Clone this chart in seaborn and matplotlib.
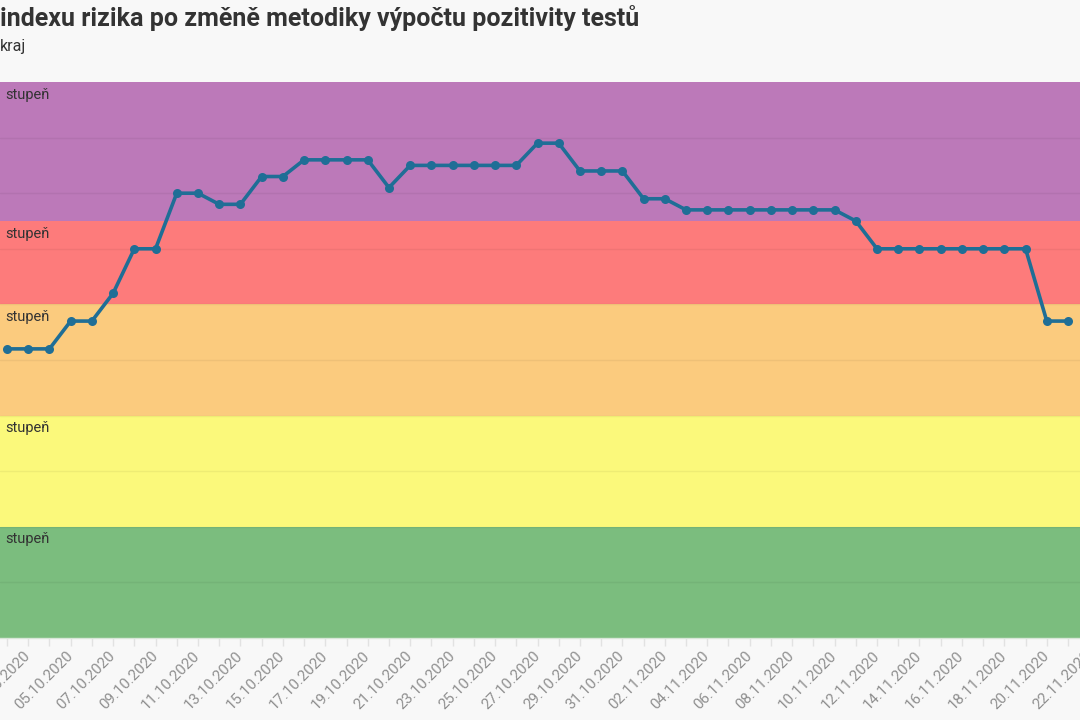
import pandas as pd
import matplotlib.pyplot as plt
import matplotlib.dates as mdates
import matplotlib.transforms as mtransforms
import seaborn as sns

# data
start_date = "2020-10-02"
risk_index = [52, 52, 52, 57, 57, 62, 70, 70, 80, 80, 78, 78, 83, 83, 86, 86, 86,
              86, 81, 85, 85, 85, 85, 85, 85, 89, 89, 84, 84, 84, 79, 79, 77, 77,
              77, 77, 77, 77, 77, 77, 75, 70, 70, 70, 70, 70, 70, 70, 70, 57, 57]
level_names = ["stupeň", "stupeň", "stupeň", "stupeň", "stupeň"]
level_bounds = [0, 20, 40, 60, 75, 100]
level_colors = ["#7bbd7e", "#fbf97b", "#fbcb7e", "#fd7b7b", "#bc79b9"]

title = "indexu rizika po změně metodiky výpočtu pozitivity testů"
subtitle = "kraj"

dates = pd.date_range(start_date, periods=len(risk_index), freq="D")
tick_dates = pd.date_range(start_date, periods=len(risk_index) + 1, freq="D")
df = pd.DataFrame({"datum": dates, "index": risk_index})

sns.set_theme(style="white")
plt.rcParams["font.family"] = ["Roboto", "DejaVu Sans"]

bg = "#f8f8f8"
px_day = 21.22
fig = plt.figure(figsize=(10.8, 7.2), dpi=100, facecolor=bg)
# plot area runs a little past the right edge, as in the cropped original
ax = fig.add_axes([0, 82 / 720, 1110 / 1080, 556 / 720], facecolor=bg)

# risk level bands
for lo, hi, col in zip(level_bounds[:-1], level_bounds[1:], level_colors):
    ax.axhspan(lo, hi, color=col, zorder=0, lw=0)

# horizontal grid every 10 points
for yv in range(10, 100, 10):
    ax.axhline(yv, color="black", alpha=0.05, lw=1, zorder=1)

sns.lineplot(data=df, x="datum", y="index", ax=ax, color="#1f6e96",
             lw=2.6, marker="o", markersize=6.5, markeredgewidth=0, zorder=3)

ax.set_ylim(0, 100)
day0 = mdates.date2num(dates[0])
ax.set_xlim(day0 - 7 / px_day, day0 + (1110 - 7) / px_day)

# band labels
trans = mtransforms.blended_transform_factory(fig.transFigure, ax.transData)
for lo, hi, name in zip(level_bounds[:-1], level_bounds[1:], level_names):
    ax.text(5 / 1080, hi - 1.0, name, transform=trans, ha="left", va="top",
            fontsize=10.5, color="#333333", zorder=4)

# ticks every day, labels every other day
ax.set_xticks(tick_dates)
labels = [d.strftime("%d.%m.%Y") if i % 2 == 1 else "" for i, d in enumerate(tick_dates)]
ax.set_xticklabels(labels)
plt.setp(ax.get_xticklabels(), rotation=45, ha="right", va="center",
         rotation_mode="anchor", fontsize=10.8, color="#8f8f8f")
ax.tick_params(axis="x", bottom=True, length=6, width=1, color="#e2e2e2", pad=5)
ax.set_yticks([])
ax.set_xlabel("")
ax.set_ylabel("")
for s in ["top", "left", "right"]:
    ax.spines[s].set_visible(False)
ax.spines["bottom"].set_color("#d8e6d8")
ax.spines["bottom"].set_linewidth(1)

fig.text(0, 1 - 18 / 720, title, ha="left", va="center", fontsize=18,
         fontweight="bold", color="#333333")
fig.text(0, 1 - 47 / 720, subtitle, ha="left", va="center", fontsize=11.5,
         color="#333333")

fig.savefig("out.png", dpi=100, facecolor=bg)
